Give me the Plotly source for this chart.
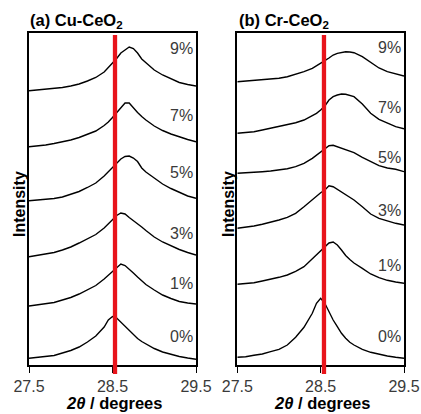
import plotly.graph_objects as go

# 2-theta grid (degrees)
two_theta = [27.5, 27.6, 27.7, 27.8, 27.9, 28.0, 28.1, 28.2, 28.3, 28.4, 28.45, 28.5, 28.55,
             28.6, 28.65, 28.7, 28.75, 28.8, 28.85, 28.9, 29.0, 29.1, 29.2, 29.3, 29.4, 29.5]

labels = ["0%", "1%", "3%", "5%", "7%", "9%"]

# (a) Cu-CeO2 stacked intensities (a.u.)
cu_0 = [6.7, 7.5, 8, 9.5, 12, 14.5, 18, 23, 29, 38, 45, 48.5, 47, 43, 38, 34, 30, 26.5, 23.5, 21, 16.5, 13, 10.5, 8.5, 7, 5.7]
cu_1 = [59, 60, 61, 62.5, 65, 67.5, 71, 75, 79.5, 86, 90, 94, 98, 101, 99.5, 96, 92, 88, 84, 80.5, 75, 70, 66.5, 63.5, 62, 61]
cu_3 = [108.3, 109.5, 111, 112.5, 115, 118, 122, 126, 130.5, 137, 141, 145, 149.5, 152, 151, 147.5, 144.5, 141.5, 138, 134.5, 128, 123, 119, 115.5, 112.5, 110]
cu_5 = [164.3, 165, 165.5, 166.5, 168, 170.5, 173.5, 177.5, 182, 189, 193, 197, 201.5, 206, 208.5, 209, 207, 203.5, 197, 193, 187, 181, 176.5, 172.5, 169, 166.7]
cu_7 = [218.3, 219, 220, 221.5, 223, 225, 227.5, 230.5, 234, 239.5, 243, 247.5, 252, 256.5, 262, 262, 257, 252.5, 248.5, 245, 239, 234.5, 231, 228, 225.5, 223.3]
cu_9 = [274.3, 275, 275.5, 276.5, 277.5, 279, 281, 284, 287.5, 293, 297, 302, 306.5, 312, 315, 318, 316.5, 312, 306, 302, 295, 290, 286, 282.5, 280.5, 279]

# (b) Cr-CeO2 stacked intensities (a.u.)
cr_0 = [7.7, 8.3, 9.7, 11, 13.3, 15.7, 20, 27.7, 37.7, 51.7, 61.7, 66.7, 61.7, 53.3, 45, 38.3, 31.7, 26.7, 22.7, 20, 15.7, 12.7, 10.7, 9, 7.7, 6.7]
cr_1 = [80.7, 81.3, 82.3, 84, 85.7, 87.7, 90, 93.7, 98.3, 106, 110, 114.5, 118.5, 122, 123, 120, 115, 109.5, 105.5, 102, 96.7, 91, 87.3, 84.7, 83, 81.7]
cr_3 = [136.7, 137.7, 139, 140.7, 142.7, 145, 147.7, 151.7, 158.3, 165.7, 169.3, 172.3, 175, 179.3, 178.3, 175.7, 173.3, 171, 168.3, 165, 158.3, 151, 146.7, 144, 141.7, 140]
cr_5 = [191.7, 192, 192.7, 193.3, 194, 195, 196.3, 198.3, 201.7, 206.7, 210, 213.3, 216.7, 219.3, 219.7, 218.3, 217, 215.7, 214.3, 212.3, 207.7, 203.3, 199.3, 197, 195.7, 193.3]
cr_7 = [231.7, 232.3, 233.3, 235, 236.7, 238.3, 240, 242.3, 245, 249.7, 251.7, 255, 259, 265, 268.3, 270, 271, 270.7, 269.7, 268.3, 261, 251.7, 245.7, 241.7, 238.3, 236.3]
cr_9 = [283.3, 284, 284.3, 285, 285.7, 286.7, 288.3, 290.7, 293.3, 296.7, 299, 301.7, 304.3, 307, 310, 311.7, 312.7, 313.3, 313, 312.3, 308.3, 302.3, 297, 293.3, 291, 289]

cu_series = [cu_0, cu_1, cu_3, cu_5, cu_7, cu_9]
cr_series = [cr_0, cr_1, cr_3, cr_5, cr_7, cr_9]

# label heights (a.u.)
cu_label_y = [29, 82, 132, 193, 250, 317]
cr_label_y = [29, 100, 155, 208, 258, 318]

ref_line_cu = 28.53
ref_line_cr = 28.54

fig = go.Figure()
for s in cu_series:
    fig.add_trace(go.Scatter(x=two_theta, y=s, mode="lines", line=dict(color="black", width=1.4),
                             xaxis="x", yaxis="y", showlegend=False, hoverinfo="skip"))
for s in cr_series:
    fig.add_trace(go.Scatter(x=two_theta, y=s, mode="lines", line=dict(color="black", width=1.4),
                             xaxis="x2", yaxis="y2", showlegend=False, hoverinfo="skip"))

W, H = 421, 414
dom_a = [29 / W, 196 / W]
dom_b = [237.3 / W, 404 / W]
ydom = [1 - 365 / H, 1 - 33 / H]

axis_common = dict(showline=True, linecolor="black", linewidth=1.5, mirror=True, showgrid=False,
                   zeroline=False, automargin=False)
xaxis_common = dict(range=[27.5, 29.5], tickvals=[27.5, 28.5, 29.5], ticktext=["27.5", "28.5", "29.5"],
                    ticks="outside", ticklen=6, tickwidth=1.2, tickcolor="black",
                    tickfont=dict(size=16, color="#3a3a3a"), **axis_common)
yaxis_common = dict(range=[0, 332], showticklabels=False, ticks="", **axis_common)

fig.update_layout(
    width=W, height=H, margin=dict(l=0, r=0, t=0, b=0),
    paper_bgcolor="white", plot_bgcolor="white",
    font=dict(family="Liberation Sans, Arial, sans-serif", color="black"),
    xaxis=dict(domain=dom_a, anchor="y", **xaxis_common),
    yaxis=dict(domain=ydom, anchor="x", **yaxis_common),
    xaxis2=dict(domain=dom_b, anchor="y2", **xaxis_common),
    yaxis2=dict(domain=ydom, anchor="x2", **yaxis_common),
)

ybot = 1 - 374 / H
for xr, xv in (("x", ref_line_cu), ("x2", ref_line_cr)):
    fig.add_shape(type="line", xref=xr, yref="paper", x0=xv, x1=xv, y0=ybot, y1=ydom[1] - 2 / H,
                  line=dict(color="#e8141b", width=4.3), layer="above")

for xr, yr, ys in (("x", "y", cu_label_y), ("x2", "y2", cr_label_y)):
    for lab, yv in zip(labels, ys):
        fig.add_annotation(x=29.49, y=yv, xref=xr, yref=yr, text=lab, showarrow=False,
                           xanchor="right", yanchor="middle", font=dict(size=16, color="#3a3a3a"))

# panel titles
fig.add_annotation(x=28 / W, y=1 - 21 / H, xref="paper", yref="paper", text="<b>(a) Cu-CeO<sub>2</sub></b>",
                   showarrow=False, xanchor="left", yanchor="middle", font=dict(size=16.5, color="black"))
fig.add_annotation(x=237 / W, y=1 - 21 / H, xref="paper", yref="paper", text="<b>(b) Cr-CeO<sub>2</sub></b>",
                   showarrow=False, xanchor="left", yanchor="middle", font=dict(size=16.5, color="black"))

# axis titles
for xc in (114 / W, 322 / W):
    fig.add_annotation(x=xc, y=1 - 403 / H, xref="paper", yref="paper",
                       text="<b><i>2θ</i> / degrees</b>", showarrow=False,
                       xanchor="center", yanchor="middle", font=dict(size=16.5, color="black"))
for xc in (19 / W, 228 / W):
    fig.add_annotation(x=xc, y=1 - 204 / H, xref="paper", yref="paper", text="<b>Intensity</b>",
                       textangle=-90, showarrow=False, xanchor="center", yanchor="middle",
                       font=dict(size=16, color="black"))

fig.write_html("out.html")
